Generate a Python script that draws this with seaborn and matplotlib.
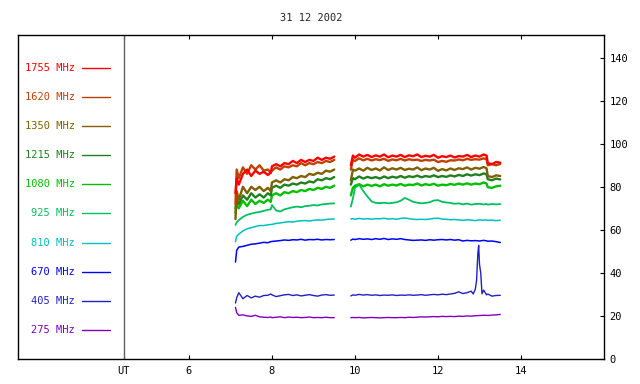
import numpy as np
import pandas as pd
import matplotlib
matplotlib.use("Agg")
import matplotlib.pyplot as plt
import seaborn as sns

# frequencies and their colours (legend order, top to bottom)
freqs = ['1755 MHz', '1620 MHz', '1350 MHz', '1215 MHz', '1080 MHz',
         '925 MHz', '810 MHz', '670 MHz', '405 MHz', '275 MHz']
colors = ['#ff0000', '#c04000', '#806000', '#208020', '#00c000',
          '#00c060', '#00c0c0', '#0000ff', '#2020c0', '#8000c0']

# UT hours, morning block and afternoon block
hours_a = [7.12, 7.15, 7.2, 7.3, 7.4, 7.5, 7.6, 7.7, 7.8, 7.9, 7.97, 8.0, 8.1, 8.2,
           8.3, 8.4, 8.5, 8.6, 8.7, 8.8, 8.9, 9.0, 9.1, 9.2, 9.3, 9.4, 9.5]
hours_b = [9.9, 9.95, 10.0, 10.1, 10.2, 10.3, 10.4, 10.5, 10.6, 10.7, 10.8, 10.9,
           11.0, 11.1, 11.2, 11.3, 11.4, 11.5, 11.6, 11.7, 11.8, 11.9, 12.0, 12.1,
           12.2, 12.3, 12.4, 12.5, 12.6, 12.7, 12.8, 12.9, 13.0, 13.1, 13.17, 13.2,
           13.3, 13.4, 13.5]
hours_b_405 = [9.9, 9.95, 10.0, 10.1, 10.2, 10.3, 10.4, 10.5, 10.6, 10.7, 10.8, 10.9,
               11.0, 11.1, 11.2, 11.3, 11.4, 11.5, 11.6, 11.7, 11.8, 11.9, 12.0, 12.1,
               12.2, 12.3, 12.4, 12.5, 12.6, 12.7, 12.8, 12.85, 12.9, 12.93, 12.96,
               12.98, 13.0, 13.03, 13.06, 13.1, 13.17, 13.2, 13.3, 13.4, 13.5]

f1755_a = [77, 84, 81, 86, 88, 85, 87.5, 86, 87, 85.5, 86.5, 89.5, 90.5, 89.5, 91,
           90.5, 92, 91, 92.5, 91.5, 92.5, 92, 93.5, 92.5, 93.5, 93, 94]
f1755_b = [90, 94.5, 93.5, 95, 94, 94.8, 93.8, 94.6, 94, 95, 93.7, 94.5, 94, 94.8,
           93.8, 94.6, 94.2, 95, 93.8, 94.4, 94, 94.8, 93.5, 94.2, 93.8, 94.5, 93.6,
           94.3, 94, 94.8, 93.8, 94.5, 94, 95, 94.5, 91, 90.5, 91.5, 91.2]
f1620_a = [72, 88, 84, 89, 86, 90, 88, 90, 87.5, 88, 86.5, 87.5, 89, 88, 89.5, 89,
           90, 89.5, 91, 90, 91, 90.5, 91.5, 91, 92, 91.5, 92.5]
f1620_b = [88, 92.5, 92, 93.2, 92.3, 93, 92.2, 92.8, 92.4, 93, 92, 92.7, 92.3, 93,
           92.2, 92.8, 92.4, 92.6, 92, 92.5, 92.2, 92.6, 91.5, 92, 91.6, 92.3, 92.2,
           92.7, 92.3, 93, 92.5, 92.8, 92.6, 93.2, 92.8, 90, 90.5, 90, 90.6]
f1350_a = [65, 78, 74, 80, 77, 80, 78.5, 80, 78, 79.5, 78, 82, 83, 82, 83.5, 83,
           84.5, 84, 85, 84.5, 86, 85.5, 86.5, 86, 87.5, 87, 88]
f1350_b = [83, 88, 87.5, 88.5, 87.5, 88.8, 87.8, 88.5, 87.6, 89, 87.8, 88.6, 88,
           88.8, 87.8, 88.4, 88, 89, 87.7, 88.5, 88, 88.8, 87.4, 88.2, 87.6, 88.5,
           87.8, 88.6, 88.2, 89, 88, 88.8, 88.4, 89.2, 88.6, 85, 84.5, 85.3, 85]
f1215_a = [70, 74, 72, 76, 74, 77, 75, 76.5, 75, 77, 76, 79.5, 80.5, 79.5, 81, 80.5,
           81.5, 81, 82, 81.5, 82.5, 82, 83.5, 83, 84, 83.5, 84.5]
f1215_b = [81, 84, 83.5, 84.8, 83.8, 84.6, 84, 84.5, 83.8, 84.8, 84, 84.7, 84.2, 85,
           84.2, 84.9, 84.5, 85.2, 84.4, 85, 84.6, 85.3, 84.5, 85, 84.6, 85.3, 84.8,
           85.5, 85, 85.8, 85.2, 85.8, 85.4, 86.2, 85.8, 83.5, 83, 83.8, 83.4]
f1080_a = [68, 72, 70, 73.5, 71, 74, 72, 73.5, 72.5, 74, 73, 76, 77, 76, 77.5, 77,
           78, 77.5, 78.5, 78, 79, 78.5, 79.5, 79, 80, 79.5, 80.5]
f1080_b = [76, 79.5, 80.5, 81.2, 80.2, 81, 80.4, 81, 80.2, 81.2, 80.5, 81, 80.6,
           81.3, 80.5, 81, 80.8, 81.5, 80.6, 81.2, 80.8, 81.4, 80.5, 81, 80.7, 81.3,
           80.9, 81.5, 81, 81.6, 81, 81.5, 81.2, 82, 81.5, 79.8, 79.5, 80.2, 80.5]
f925_a = [62.3, 63.5, 64.5, 66, 67, 67.5, 68, 68.3, 68.8, 69.3, 69.5, 71.5, 69, 68.5,
          69.5, 70, 70.5, 70.8, 70.5, 71, 71.2, 71.5, 71.3, 71.8, 72, 72.2, 72.3]
f925_b = [70.8, 74.5, 79.5, 81, 78, 75.5, 73.2, 72.5, 72.4, 72.6, 72.3, 72.5, 72.8,
          73.5, 74.8, 74, 73, 72.6, 72.3, 72.5, 72.8, 73.6, 73.8, 73, 72.7, 72.5,
          72.1, 72.3, 71.8, 72.2, 71.7, 72, 72.1, 71.8, 72, 71.7, 72, 71.8, 72]
f810_a = [54.5, 57, 58, 59.5, 60.5, 61, 61.5, 62, 62, 62.3, 62.5, 62.5, 63, 63.2,
          63.5, 63.8, 63.6, 64, 64.2, 64.3, 64.1, 64.4, 64.6, 64.5, 64.8, 65, 65]
f810_b = [65, 65.2, 64.9, 65.3, 65, 65.2, 64.9, 65.2, 65.1, 65.4, 65, 65.2, 64.9,
          65.3, 65.5, 65.2, 64.9, 64.8, 64.9, 64.8, 65, 65.3, 65.4, 65, 64.9, 64.7,
          64.8, 64.6, 64.4, 64.7, 64.5, 64.3, 64.6, 64.5, 64.6, 64.4, 64.5, 64.3, 64.4]
f670_a = [45, 50.5, 52, 52.3, 52.8, 53.3, 53.5, 53.8, 54.2, 54, 54.5, 54.6, 54.8, 55,
          55.3, 55.1, 55.4, 55.3, 55.6, 55.2, 55.5, 55.4, 55.6, 55.3, 55.5, 55.4, 55.5]
f670_b = [55.2, 55.7, 55.5, 55.9, 55.6, 55.8, 55.5, 55.9, 55.6, 56, 55.5, 55.8, 55.6,
          55.9, 55.5, 55.3, 55.1, 55.2, 55.3, 55.1, 55.4, 55.2, 55.4, 55.5, 55.3, 55.5,
          55.2, 55.4, 54.8, 55.1, 54.9, 55, 54.8, 55.1, 54.9, 54.7, 54.8, 54.5, 54.1]
f405_a = [26, 28.5, 30.8, 28, 29.5, 28.4, 29.2, 28.7, 29.5, 29.6, 30.2, 29.8, 29,
          29.4, 29.8, 30, 29.5, 29.8, 29.3, 29.6, 29.9, 29.5, 29.2, 29.7, 29.9, 29.6, 29.7]
f405_b = [29.3, 29.8, 29.6, 30, 29.7, 29.9, 29.6, 29.8, 29.5, 29.7, 29.6, 29.8, 29.5,
          29.7, 29.6, 29.8, 29.6, 29.7, 29.9, 29.6, 29.8, 30, 29.8, 30.1, 29.9, 30.2,
          30.5, 31.2, 30.4, 30.8, 31.5, 30.2, 32.5, 36.5, 49, 52.8, 44, 40, 30.3, 32,
          29.8, 30.2, 29.2, 29.5, 29.6]
f275_a = [24, 21.5, 20.3, 20.5, 20, 19.8, 20.3, 19.6, 19.4, 19.3, 19.5, 19.2, 19.4,
          19.6, 19.2, 19.5, 19.3, 19.4, 19.2, 19.3, 19.5, 19.2, 19.3, 19.2, 19.4, 19.2, 19.2]
f275_b = [19.2, 19.3, 19.2, 19.3, 19.1, 19.2, 19.3, 19.2, 19.1, 19.2, 19.3, 19.2, 19.2,
          19.3, 19.2, 19.4, 19.3, 19.4, 19.6, 19.5, 19.6, 19.7, 19.6, 19.8, 19.7, 19.8,
          19.7, 19.9, 19.8, 20, 19.9, 20.1, 20.2, 20.3, 20.3, 20.2, 20.4, 20.5, 20.7]

morning = [f1755_a, f1620_a, f1350_a, f1215_a, f1080_a, f925_a, f810_a, f670_a, f405_a, f275_a]
afternoon = [f1755_b, f1620_b, f1350_b, f1215_b, f1080_b, f925_b, f810_b, f670_b, f405_b, f275_b]

frames = []
for name, va, vb in zip(freqs, morning, afternoon):
    hb = hours_b_405 if name == '405 MHz' else hours_b
    frames.append(pd.DataFrame({'hour': hours_a, 'flux': va, 'freq': name, 'seg': 0}))
    frames.append(pd.DataFrame({'hour': hb, 'flux': vb, 'freq': name, 'seg': 1}))
df = pd.concat(frames, ignore_index=True)

# the high-frequency channels are noisy bands, so draw them thicker
widths = dict(zip(freqs, [1.7, 1.7, 1.7, 1.7, 1.7, 1.3, 1.1, 1.1, 1.0, 1.0]))

sns.set_theme(style='white')
plt.rcParams['font.family'] = ['DejaVu Sans Mono']
fs = 7.5

fig = plt.figure(figsize=(6.4, 3.84), dpi=100)
ax = fig.add_axes([18 / 640, 1 - 359 / 384, 586 / 640, 324 / 384])

sns.lineplot(data=df, x='hour', y='flux', hue='freq', units='seg', estimator=None,
             hue_order=freqs[::-1], palette=dict(zip(freqs, colors)),
             size='freq', sizes=widths, size_order=freqs[::-1],
             sort=False, legend=False, ax=ax)

# left-hand legend panel
leg_y = np.linspace(135.3, 13.5, len(freqs))
for name, col, yy in zip(freqs, colors, leg_y):
    ax.text(3.25, yy, name, color=col, ha='right', va='center', fontsize=fs)
    ax.plot([3.42, 4.09], [yy, yy], color=col, lw=1)
ax.axvline(4.43, color='#606060', lw=1)

ax.set_xlim(1.88, 16)
ax.set_ylim(0, 150.5)
ax.set_xticks([4.43, 6, 8, 10, 12, 14])
ax.set_xticklabels(['UT', '6', '8', '10', '12', '14'], fontsize=fs)
ax.yaxis.tick_right()
ax.set_yticks(range(0, 141, 20))
ax.set_yticklabels([str(v) for v in range(0, 141, 20)], fontsize=fs)
ax.tick_params(axis='x', direction='in', top=True, bottom=True, length=3, width=0.8,
               pad=5, colors='black')
ax.tick_params(axis='y', direction='in', right=True, left=False, length=3, width=0.8,
               labelright=True, labelleft=False, pad=4, colors='black')
ax.set_xlabel('')
ax.set_ylabel('')
for sp in ax.spines.values():
    sp.set_color('black')
    sp.set_linewidth(1)

fig.text(311 / 640, 1 - 18 / 384, '31 12 2002', ha='center', va='center', fontsize=fs)

fig.savefig('out.png', dpi=100)
